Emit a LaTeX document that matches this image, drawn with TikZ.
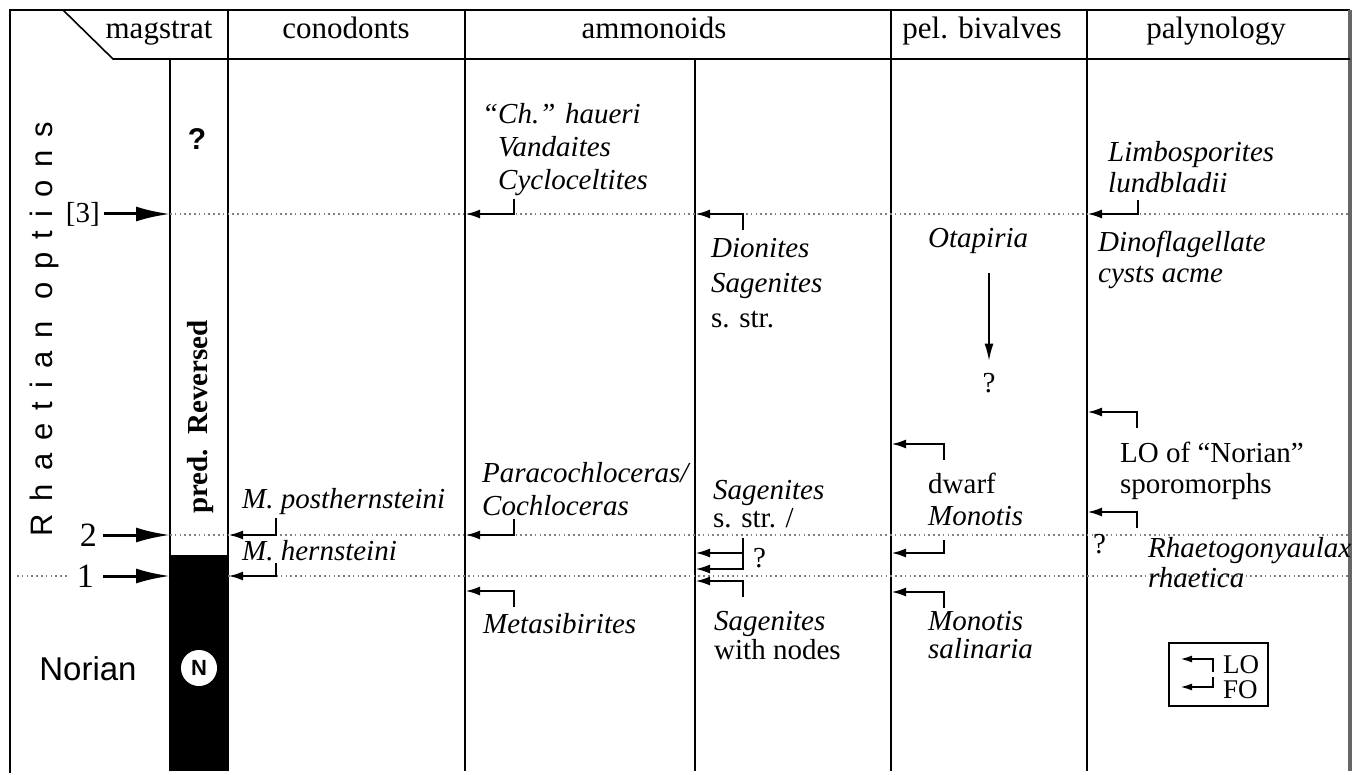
\documentclass[tikz,border=0pt]{standalone}
\usepackage{fontspec}
\setmainfont{Liberation Serif}
\setsansfont{Liberation Sans}
\newfontfamily\spacedsans[LetterSpace=42]{Liberation Sans}
\usetikzlibrary{arrows.meta}

\newcommand{\txtfont}{\fontsize{29}{33}\selectfont}
\newcommand{\hdfont}{\fontsize{31}{35}\selectfont}

\tikzset{
  frame/.style={line width=2.2pt},
  colline/.style={line width=1.6pt},
  level/.style={gray, line width=1.6pt, dash pattern=on 1.6pt off 3.2pt},
  occ/.style={-{Latex[length=15pt,width=9pt]}, line width=2.6pt},
  smallocc/.style={-{Latex[length=12pt,width=7pt]}, line width=2pt},
  bigarr/.style={-{Latex[length=34pt,width=15pt]}, line width=3pt},
  taxon/.style={font=\txtfont\itshape, inner sep=0pt, anchor=base west, align=left},
  plain/.style={font=\txtfont, inner sep=0pt},
  header/.style={font=\hdfont, inner sep=0pt, anchor=base},
}

\begin{document}
\begin{tikzpicture}[x=1pt,y=-1pt]
	\useasboundingbox (0,0) rectangle (1359,775);
	%columns
	\coordinate (cL) at (10,10);
	\coordinate (cBar) at (170,59);
	\coordinate (cMag) at (228,10);
	\coordinate (cCon) at (465,10);
	\coordinate (cAmm) at (695,59);
	\coordinate (cBiv) at (891,10);
	\coordinate (cPal) at (1087,10);
	\coordinate (cR) at (1350,10);
	\coordinate (hd) at (63,10);
	\coordinate (hdEnd) at (113,59);
	\coordinate (bot) at (0,771);
	\coordinate (rev) at (0,555);
	%horizons
	\coordinate (h3) at (0,214);
	\coordinate (h2) at (0,535);
	\coordinate (h1) at (0,576);
	\coordinate (h1s) at (17,576);
	
	%magstrat bar
	\fill (cBar |- rev) rectangle (cMag |- bot);
	
	%frame
	\draw[frame] (cL |- 0,773) -- (cL) -- (cR);
	\draw[line width=3.5pt, black!60] (cR) -- (cR |- bot);
	\draw[colline] (hd) -- (hdEnd) -- (cR |- hdEnd);
	\draw[colline] (cBar) -- (cBar |- bot);
	\draw[colline] (cMag) -- (cMag |- bot);
	\draw[colline] (cCon) -- (cCon |- bot);
	\draw[colline] (cAmm) -- (cAmm |- bot);
	\draw[colline] (cBiv) -- (cBiv |- bot);
	\draw[colline] (cPal) -- (cPal |- bot);
	
	%headers
	\node[header] (hMag) at (159,39) {magstrat};
	\node[header] (hCon) at (346,39) {conodonts};
	\node[header] (hAmm) at (654,39) {ammonoids};
	\node[header] (hBiv) at (982,39) {pel. bivalves};
	\node[header] (hPal) at (1216,39) {palynology};
	
	%left side
	\node[rotate=90, font=\spacedsans\fontsize{31}{31}\selectfont, inner sep=0pt] (rhaet) at (44,329) {Rhaetian options};
	\node[font=\sffamily\fontsize{33}{33}\selectfont, inner sep=0pt] (norian) at (88,669) {Norian};
	\node[plain, anchor=east] (l3) at (100,214) {[3]};
	\node[font=\fontsize{34}{34}\selectfont, inner sep=0pt, anchor=east] (l2) at (97,535) {2};
	\node[font=\fontsize{34}{34}\selectfont, inner sep=0pt, anchor=east] (l1) at (94,576) {1};
	\node[font=\sffamily\bfseries\fontsize{30}{30}\selectfont, inner sep=0pt] (qMag) at (197,139) {?};
	\node[rotate=90, font=\bfseries\txtfont, inner sep=0pt] (pred) at (201,417) {pred.\ \ Reversed};
	\node[circle, fill=white, inner sep=0pt, minimum size=36pt, font=\sffamily\bfseries\fontsize{22}{22}\selectfont] (nCirc) at (199,668) {N};
	
	%levels
	\draw[level] (cBar |- h3) -- (cR |- h3);
	\draw[level] (cBar |- h2) -- (cR |- h2);
	\draw[level, shorten >=8pt] (h1s) -- (l1.west);
	\draw[level] (cMag |- h1) -- (cR |- h1);
	\draw[bigarr, shorten <=4pt] (l3.east) -- (l3.east -| cBar);
	\draw[bigarr, shorten <=6pt] (l2.east) -- (l2.east -| cBar);
	\draw[bigarr, shorten <=9pt] (l1.east) -- (l1.east -| cBar);
	
	%conodonts
	\node[taxon] (posthern) at (242,508) {M. posthernsteini};
	\node[taxon] (hernst) at (242,560) {M. hernsteini};
	\coordinate (e-posthern) at (276,535);
	\coordinate (e-hernst) at (276,576);
	\draw[occ] (e-posthern) +(0,-17) -- (e-posthern) -- (e-posthern -| cMag);
	\draw[occ] (e-hernst) +(0,-13) -- (e-hernst) -- (e-hernst -| cMag);
	
	%ammonoids (base = last line)
	\node[taxon] (haueri) at (498,190) {\llap{“}Ch.” haueri\\Vandaites\\Cycloceltites};
	\node[taxon] (paracoch) at (482,515) {Paracochloceras/\\Cochloceras};
	\node[taxon] (metasib) at (483,633) {Metasibirites};
	\node[taxon] (dionites) at (711,327) {Dionites\\[2pt]Sagenites\\[2pt]\textup{s. str.}};
	\node[taxon] (sagss) at (713,527) {Sagenites\\[-5pt]\textup{s. str. /}};
	\node[taxon] (sagnodes) at (714,659) {Sagenites\\[-4pt]\textup{with nodes}};
	\node[plain, anchor=base west] (qAmm) at (753,567) {?};
	\coordinate (e-haueri) at (514,214);
	\coordinate (e-paracoch) at (514,535);
	\coordinate (e-metasib) at (514,591);
	\coordinate (e-dionites) at (743,214);
	\coordinate (e-sagA) at (743,553);
	\coordinate (e-sagB) at (743,569);
	\coordinate (e-sagnodes) at (743,581);
	\draw[occ] (e-haueri) +(0,-15) -- (e-haueri) -- (e-haueri -| cCon);
	\draw[occ] (e-paracoch) +(0,-16) -- (e-paracoch) -- (e-paracoch -| cCon);
	\draw[occ] (e-metasib) +(0,16) -- (e-metasib) -- (e-metasib -| cCon);
	\draw[occ] (e-dionites) +(0,16) -- (e-dionites) -- (e-dionites -| cAmm);
	\draw[occ] (e-sagB) +(0,-31) -- (e-sagB) -- (e-sagB -| cAmm);
	\draw[occ] (e-sagA) -- (e-sagA -| cAmm);
	\draw[occ] (e-sagnodes) +(0,16) -- (e-sagnodes) -- (e-sagnodes -| cAmm);
	
	%pel. bivalves
	\node[taxon] (otapiria) at (928,248) {Otapiria};
	\node[plain, anchor=base] (qBiv) at (989,392) {?};
	\coordinate (otaStart) at (989,273);
	\draw[-{Latex[length=17pt,width=9pt]}, line width=1.5pt, shorten >=12pt] (otaStart) -- (qBiv);
	\node[taxon] (dwarf) at (928,525) {\textup{dwarf}\\[-1pt]Monotis};
	\node[taxon] (salinaria) at (928,658) {Monotis\\[-5pt]salinaria};
	\coordinate (e-dwarfLO) at (944,444);
	\coordinate (e-dwarfFO) at (944,553);
	\coordinate (e-salinaria) at (944,592);
	\draw[occ] (e-dwarfLO) +(0,16) -- (e-dwarfLO) -- (e-dwarfLO -| cBiv);
	\draw[occ] (e-dwarfFO) +(0,-13) -- (e-dwarfFO) -- (e-dwarfFO -| cBiv);
	\draw[occ] (e-salinaria) +(0,16) -- (e-salinaria) -- (e-salinaria -| cBiv);
	
	%palynology
	\node[taxon] (limbo) at (1108,193) {Limbosporites\\[-2pt]lundbladii};
	\node[taxon] (dinofl) at (1098,283) {Dinoflagellate\\[-2pt]cysts acme};
	\node[taxon] (lonorian) at (1120,493) {\textup{LO of “Norian”}\\[-2pt]\textup{sporomorphs}};
	\node[taxon] (rhaeto) at (1148,587) {Rhaetogonyaulax\\[-3pt]rhaetica};
	\node[plain, anchor=base west] (qPal) at (1093,553) {?};
	\coordinate (e-limbo) at (1138,214);
	\coordinate (e-norA) at (1137,412);
	\coordinate (e-norB) at (1137,512);
	\draw[occ] (e-limbo) +(0,-14) -- (e-limbo) -- (e-limbo -| cPal);
	\draw[occ] (e-norA) +(0,16) -- (e-norA) -- (e-norA -| cPal);
	\draw[occ] (e-norB) +(0,16) -- (e-norB) -- (e-norB -| cPal);
	
	%legend
	\node[draw, line width=1.6pt, minimum width=99pt, minimum height=63pt, inner sep=0pt] (legend) at (1218.5,674.5) {};
	\node[font=\fontsize{27}{27}\selectfont, inner sep=0pt, anchor=base west] (lgLO) at (1223,673) {LO};
	\node[font=\fontsize{27}{27}\selectfont, inner sep=0pt, anchor=base west] (lgFO) at (1223,698) {FO};
	\coordinate (e-lgLO) at (1213,659);
	\coordinate (e-lgFO) at (1213,687);
	\coordinate (lgTip) at (1180,0);
	\draw[smallocc] (e-lgLO) +(0,13) -- (e-lgLO) -- (e-lgLO -| lgTip);
	\draw[smallocc] (e-lgFO) +(0,-10) -- (e-lgFO) -- (e-lgFO -| lgTip);
\end{tikzpicture}
\end{document}
